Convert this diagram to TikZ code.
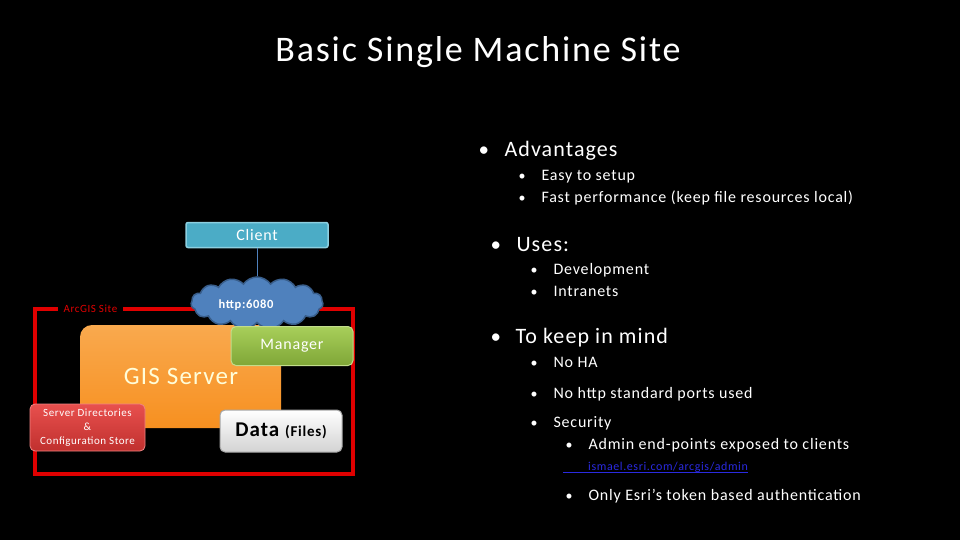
\documentclass[tikz,border=0pt]{standalone}
\usepackage{fontspec}
\setmainfont{Carlito}[LetterSpace=5]
\usetikzlibrary{shapes.symbols}
\definecolor{clientfill}{HTML}{4BACC6}
\definecolor{clientline}{HTML}{8CCFE0}
\definecolor{cloudfill}{HTML}{4F81BD}
\definecolor{cloudline}{HTML}{385D8A}
\definecolor{sitered}{HTML}{E00000}
\definecolor{orangetop}{HTML}{F9A94E}
\definecolor{orangebot}{HTML}{F79020}
\definecolor{greentop}{HTML}{A8CF5A}
\definecolor{greenbot}{HTML}{7FA637}
\definecolor{redtop}{HTML}{E8504E}
\definecolor{redbot}{HTML}{C0302E}
\definecolor{linkblue}{HTML}{2A2AE0}
\tikzset{
  px/.style={x=1pt,y=-1pt},
  bigitem/.style={anchor=base west,text=white,font=\fontsize{22}{25}\selectfont},
  smallitem/.style={anchor=base west,text=white,font=\fontsize{16}{19}\selectfont},
  bulletbig/.style={anchor=base west,text=white,font=\fontsize{21}{24}\selectfont},
  bulletsmall/.style={anchor=base west,text=white,font=\fontsize{14}{17}\selectfont},
}
\begin{document}
\begin{tikzpicture}[px]
\fill[black] (0,0) rectangle (960,540);
\useasboundingbox (0,0) rectangle (960,540);

% title
\node[text=white,font=\fontsize{36}{40}\selectfont] (title) at (478,52) {Basic Single Machine Site};

% site frame
\draw[sitered,line width=4pt] (35,309) rectangle (353,474);
\node[fill=black,text=sitered,font=\fontsize{11}{13}\selectfont,inner xsep=6pt,inner ysep=2pt] (site) at (90.5,309) {ArcGIS Site};

% client
\node[draw=clientline,line width=1.5pt,fill=clientfill,rounded corners=2pt,minimum width=142pt,minimum height=25pt,text=white,font=\fontsize{16}{19}\selectfont] (client) at (257,235) {Client};

% GIS server
\node[rounded corners=12pt,top color=orangetop,bottom color=orangebot,minimum width=201pt,minimum height=103pt,inner sep=0pt] (gis) at (180.5,376.5) {};
\node[text=white!85!yellow,font=\fontsize{25}{28}\selectfont] (gistext) at (181,376) {GIS Server};

% cloud
\node[cloud,cloud puffs=15,cloud puff arc=110,aspect=2.6,draw=cloudline,line width=1.5pt,fill=cloudfill,minimum width=132pt,minimum height=52pt,inner sep=0pt] (cloud) at (257,303) {};
\node[text=white,font=\bfseries\fontsize{12.5}{15}\selectfont] (cloudtext) at (246,305) {http:6080};
\draw[cloudfill,line width=1pt] (client.south) -- (cloud.north);

% manager
\node[draw=greentop!70!white,line width=1pt,rounded corners=5pt,top color=greentop,bottom color=greenbot,minimum width=122pt,minimum height=39pt,text=white,font=\fontsize{16}{19}\selectfont] (manager) at (292,346) {Manager};

% server directories
\node[draw=redtop!70!white,line width=0.8pt,rounded corners=5pt,top color=redtop,bottom color=redbot,minimum width=115pt,minimum height=47pt,text=white,font=\fontsize{11}{14}\selectfont,align=center,inner sep=1pt] (dirs) at (87.5,427.5) {Server Directories\\\&\\Configuration Store};

% data
\node[draw=gray!70,line width=1pt,rounded corners=5pt,top color=white,bottom color=gray!35,minimum width=122pt,minimum height=42pt,font=\bfseries\fontsize{21}{24}\selectfont,text=black] (data) at (281,431) {Data {\fontsize{15}{18}\selectfont(Files)}};

% right text
\node[bulletbig] (b1) at (475,157) {•};
\node[bigitem] (adv) at (501,157) {Advantages};
\node[bulletsmall] (b1a) at (515,180) {•};
\node[smallitem] (easy) at (538,180) {Easy to setup};
\node[bulletsmall] (b1b) at (515,202) {•};
\node[smallitem] (fast) at (538,202) {Fast performance (keep file resources local)};

\node[bulletbig] (b2) at (487,251) {•};
\node[bigitem] (uses) at (513,251) {Uses:};
\node[bulletsmall] (b2a) at (527,274) {•};
\node[smallitem] (dev) at (550,274) {Development};
\node[bulletsmall] (b2b) at (527,296) {•};
\node[smallitem] (intra) at (550,296) {Intranets};

\node[bulletbig] (b3) at (487,343) {•};
\node[bigitem] (keep) at (512,343) {To keep in mind};
\node[bulletsmall] (b3a) at (527,367) {•};
\node[smallitem] (noha) at (550,367) {No HA};
\node[bulletsmall] (b3b) at (527,398) {•};
\node[smallitem] (nohttp) at (550,398) {No http standard ports used};
\node[bulletsmall] (b3c) at (527,427) {•};
\node[smallitem] (sec) at (550,427) {Security};
\node[bulletsmall] (b3c1) at (562,449) {•};
\node[smallitem] (admin) at (585,449) {Admin end-points exposed to clients};
\node[anchor=base west,text=linkblue,font=\fontsize{12}{14}\selectfont,inner xsep=0pt] (link) at (588,470) {ismael.esri.com/arcgis/admin};
\coordinate (ulstart) at (563,472);
\draw[linkblue,line width=0.8pt] (ulstart) -- (ulstart -| link.east);
\node[bulletsmall] (b3c2) at (562,500) {•};
\node[smallitem] (token) at (585,500) {Only Esri’s token based authentication};
\end{tikzpicture}
\end{document}
